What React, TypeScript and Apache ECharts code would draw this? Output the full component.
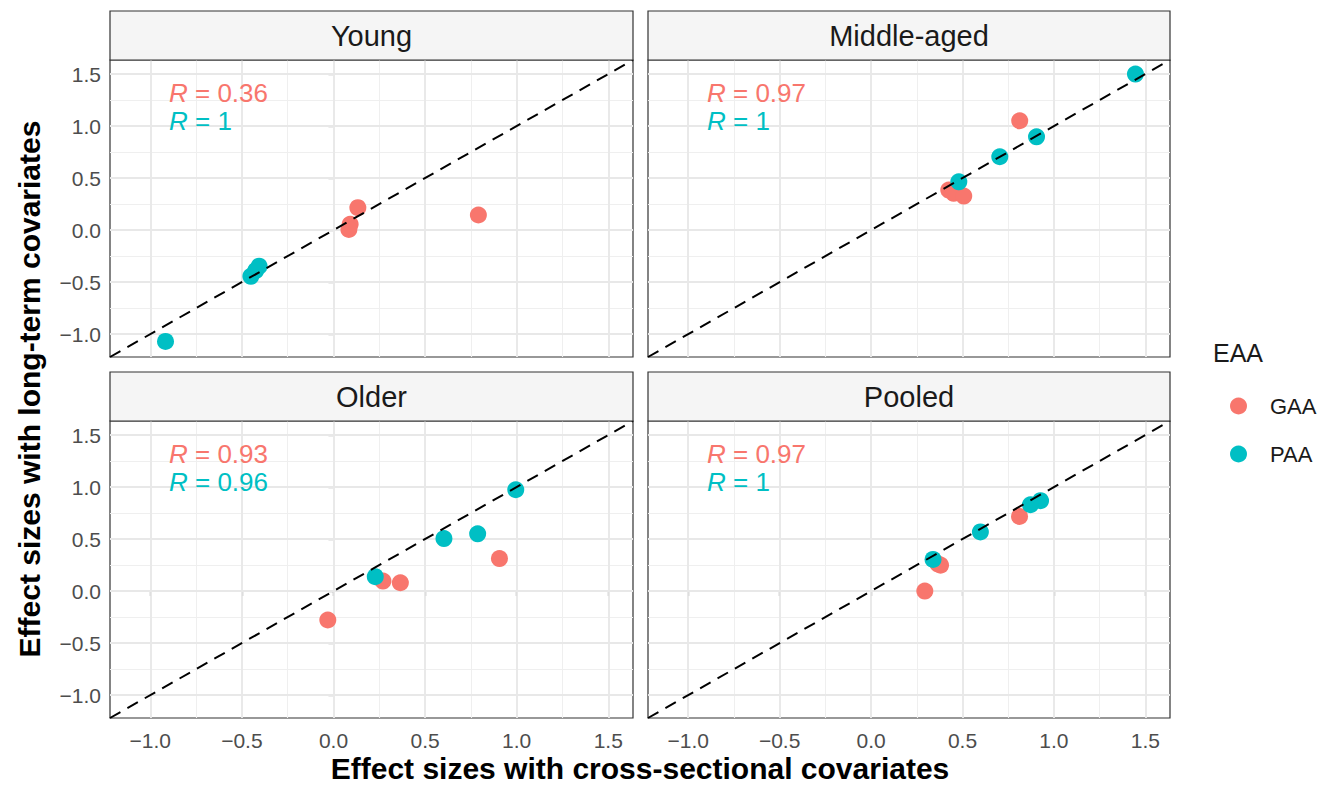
import React, { useEffect, useRef } from "react";
import * as echarts from "echarts";

// ---- data ----
const panelNames = ["Young", "Middle-aged", "Older", "Pooled"];
const groups = ["GAA", "PAA"];

const youngGAA_x = [0.133, 0.091, 0.084, 0.791];
const youngGAA_y = [0.215, 0.055, 0.006, 0.145];
const youngPAA_x = [-0.917, -0.451, -0.406, -0.425];
const youngPAA_y = [-1.07, -0.444, -0.347, -0.39];

const middleGAA_x = [0.813, 0.425, 0.452, 0.507];
const middleGAA_y = [1.051, 0.385, 0.353, 0.327];
const middlePAA_x = [1.446, 0.905, 0.704, 0.48];
const middlePAA_y = [1.5, 0.897, 0.705, 0.464];

const olderGAA_x = [0.906, 0.27, 0.365, -0.031];
const olderGAA_y = [0.313, 0.096, 0.08, -0.278];
const olderPAA_x = [0.995, 0.787, 0.603, 0.228];
const olderPAA_y = [0.974, 0.55, 0.505, 0.138];

const pooledGAA_x = [0.812, 0.38, 0.294, 0.365];
const pooledGAA_y = [0.718, 0.249, 0.0, 0.262];
const pooledPAA_x = [0.927, 0.872, 0.598, 0.339];
const pooledPAA_y = [0.869, 0.83, 0.569, 0.304];

const gaaR = ["0.36", "0.97", "0.93", "0.97"];
const paaR = ["1", "1", "0.96", "1"];

const majorTicks = [-1.0, -0.5, 0.0, 0.5, 1.0, 1.5];
const minorTicks = [-0.75, -0.25, 0.25, 0.75, 1.25];
const axisMin = -1.22;
const axisMax = 1.635;

// ---- layout / style ----
const COLORS: Record<string, string> = { GAA: "#F8766D", PAA: "#00BFC4" };
const FONT = "Liberation Sans, Arial, sans-serif";
const panelRects = [
  { left: 110, top: 60, width: 523, height: 297 },
  { left: 648, top: 60, width: 522, height: 297 },
  { left: 110, top: 421, width: 523, height: 297 },
  { left: 648, top: 421, width: 522, height: 297 },
];
const stripH = 49;

const zip = (xs: number[], ys: number[]) => xs.map((x, i) => [x, ys[i]]);

export default function App() {
  const ref = useRef<HTMLDivElement>(null);
  useEffect(() => {
    document.body.style.margin = "0";
    if (!ref.current) return;
    const chart = echarts.init(ref.current, undefined, { renderer: "svg" });

    const panelData = [
      { GAA: zip(youngGAA_x, youngGAA_y), PAA: zip(youngPAA_x, youngPAA_y) },
      { GAA: zip(middleGAA_x, middleGAA_y), PAA: zip(middlePAA_x, middlePAA_y) },
      { GAA: zip(olderGAA_x, olderGAA_y), PAA: zip(olderPAA_x, olderPAA_y) },
      { GAA: zip(pooledGAA_x, pooledGAA_y), PAA: zip(pooledPAA_x, pooledPAA_y) },
    ];

    const fmt = (v: number) => v.toFixed(1).replace("-", "\u2212");
    const labelStyle = {
      fontSize: 21,
      color: "#4d4d4d",
    };

    const xAxes = panelRects.map((_, i) => {
      const showLab = i >= 2;
      return {
        gridIndex: i,
        type: "value",
        min: axisMin,
        max: axisMax,
        axisLine: { show: false },
        splitLine: { show: false },
        axisTick: {
          show: showLab,
          customValues: majorTicks,
          length: 5,
          lineStyle: { color: "#333", width: 1.2 },
        },
        axisLabel: {
          show: showLab,
          customValues: majorTicks,
          formatter: fmt,
          margin: 12,
          ...labelStyle,
        },
      };
    });
    const yAxes = panelRects.map((_, i) => {
      const showLab = i % 2 === 0;
      return {
        gridIndex: i,
        type: "value",
        min: axisMin,
        max: axisMax,
        axisLine: { show: false },
        splitLine: { show: false },
        axisTick: {
          show: showLab,
          customValues: majorTicks,
          length: 5,
          lineStyle: { color: "#333", width: 1.2 },
        },
        axisLabel: {
          show: showLab,
          customValues: majorTicks,
          formatter: fmt,
          margin: 9,
          ...labelStyle,
        },
      };
    });

    const series: any[] = [];
    panelRects.forEach((_, i) => {
      // grid lines
      const ml: any[] = [];
      minorTicks.forEach((v) => {
        ml.push({ xAxis: v, lineStyle: { color: "#efefef", width: 1.1, type: "solid" } });
        ml.push({ yAxis: v, lineStyle: { color: "#efefef", width: 1.1, type: "solid" } });
      });
      majorTicks.forEach((v) => {
        ml.push({ xAxis: v, lineStyle: { color: "#e8e8e8", width: 1.9, type: "solid" } });
        ml.push({ yAxis: v, lineStyle: { color: "#e8e8e8", width: 1.9, type: "solid" } });
      });
      series.push({
        type: "scatter",
        name: "grid" + i,
        xAxisIndex: i,
        yAxisIndex: i,
        data: [],
        z: 1,
        silent: true,
        markLine: {
          silent: true,
          symbol: ["none", "none"],
          label: { show: false },
          emphasis: { disabled: true },
          data: ml,
          z: 1,
        },
      });
      groups.forEach((g) => {
        series.push({
          type: "scatter",
          name: g,
          xAxisIndex: i,
          yAxisIndex: i,
          data: (panelData[i] as any)[g],
          symbol: "circle",
          symbolSize: 17,
          itemStyle: { color: COLORS[g], opacity: 1 },
          z: 3,
        });
      });
      series.push({
        type: "line",
        name: "diag" + i,
        xAxisIndex: i,
        yAxisIndex: i,
        data: [
          [axisMin, axisMin],
          [axisMax, axisMax],
        ],
        symbol: "none",
        silent: true,
        lineStyle: { color: "#000", width: 2, type: [12, 8] },
        z: 4,
      });
    });

    const graphics: any[] = [];
    panelRects.forEach((r, i) => {
      graphics.push({
        type: "rect",
        shape: { x: r.left, y: r.top - stripH, width: r.width, height: stripH },
        style: { fill: "#f5f5f5", stroke: "#333", lineWidth: 1.2 },
        z: 10,
      });
      graphics.push({
        type: "text",
        x: r.left + r.width / 2,
        y: r.top - stripH / 2,
        style: {
          text: panelNames[i],
          fontSize: 29,
          fontFamily: FONT,
          fill: "#1a1a1a",
          align: "center",
          verticalAlign: "middle",
        },
        z: 11,
      });
      [gaaR[i], paaR[i]].forEach((val, k) => {
        graphics.push({
          type: "text",
          x: r.left + 59,
          y: r.top + (k === 0 ? 33 : 61),
          style: {
            text: "{i|R} = " + val,
            fontSize: 26,
            fontFamily: FONT,
            fill: COLORS[groups[k]],
            verticalAlign: "middle",
            rich: {
              i: { fontStyle: "italic", fontSize: 26, fontFamily: FONT, fill: COLORS[groups[k]] },
            },
          },
          z: 11,
        });
      });
    });
    // axis titles
    graphics.push({
      type: "text",
      x: 640,
      y: 768,
      style: {
        text: "Effect sizes with cross-sectional covariates",
        fontSize: 30,
        fontWeight: "bold",
        fontFamily: FONT,
        fill: "#000",
        align: "center",
        verticalAlign: "middle",
      },
    });
    graphics.push({
      type: "text",
      x: 29,
      y: 389,
      rotation: Math.PI / 2,
      style: {
        text: "Effect sizes with long-term covariates",
        fontSize: 30,
        fontWeight: "bold",
        fontFamily: FONT,
        fill: "#000",
        align: "center",
        verticalAlign: "middle",
      },
    });
    // legend title
    graphics.push({
      type: "text",
      x: 1213,
      y: 353,
      style: {
        text: "EAA",
        fontSize: 25,
        fontFamily: FONT,
        fill: "#1a1a1a",
        verticalAlign: "middle",
      },
    });

    chart.setOption({
      animation: false,
      backgroundColor: "#ffffff",
      textStyle: { fontFamily: FONT },
      grid: panelRects.map((r) => ({
        ...r,
        show: true,
        borderColor: "#333",
        borderWidth: 1.2,
        backgroundColor: "#fff",
        containLabel: false,
        outerBoundsMode: "none",
      })),
      xAxis: xAxes,
      yAxis: yAxes,
      legend: {
        data: groups,
        orient: "vertical",
        left: 1225,
        top: 390,
        icon: "circle",
        itemWidth: 17,
        itemHeight: 17,
        itemGap: 26,
        selectedMode: false,
        textStyle: { fontSize: 22, color: "#1a1a1a", padding: [0, 0, 0, 18] },
      },
      graphic: graphics,
      series,
    });
    return () => chart.dispose();
  }, []);
  return <div ref={ref} style={{ width: 1328, height: 789 }} />;
}
